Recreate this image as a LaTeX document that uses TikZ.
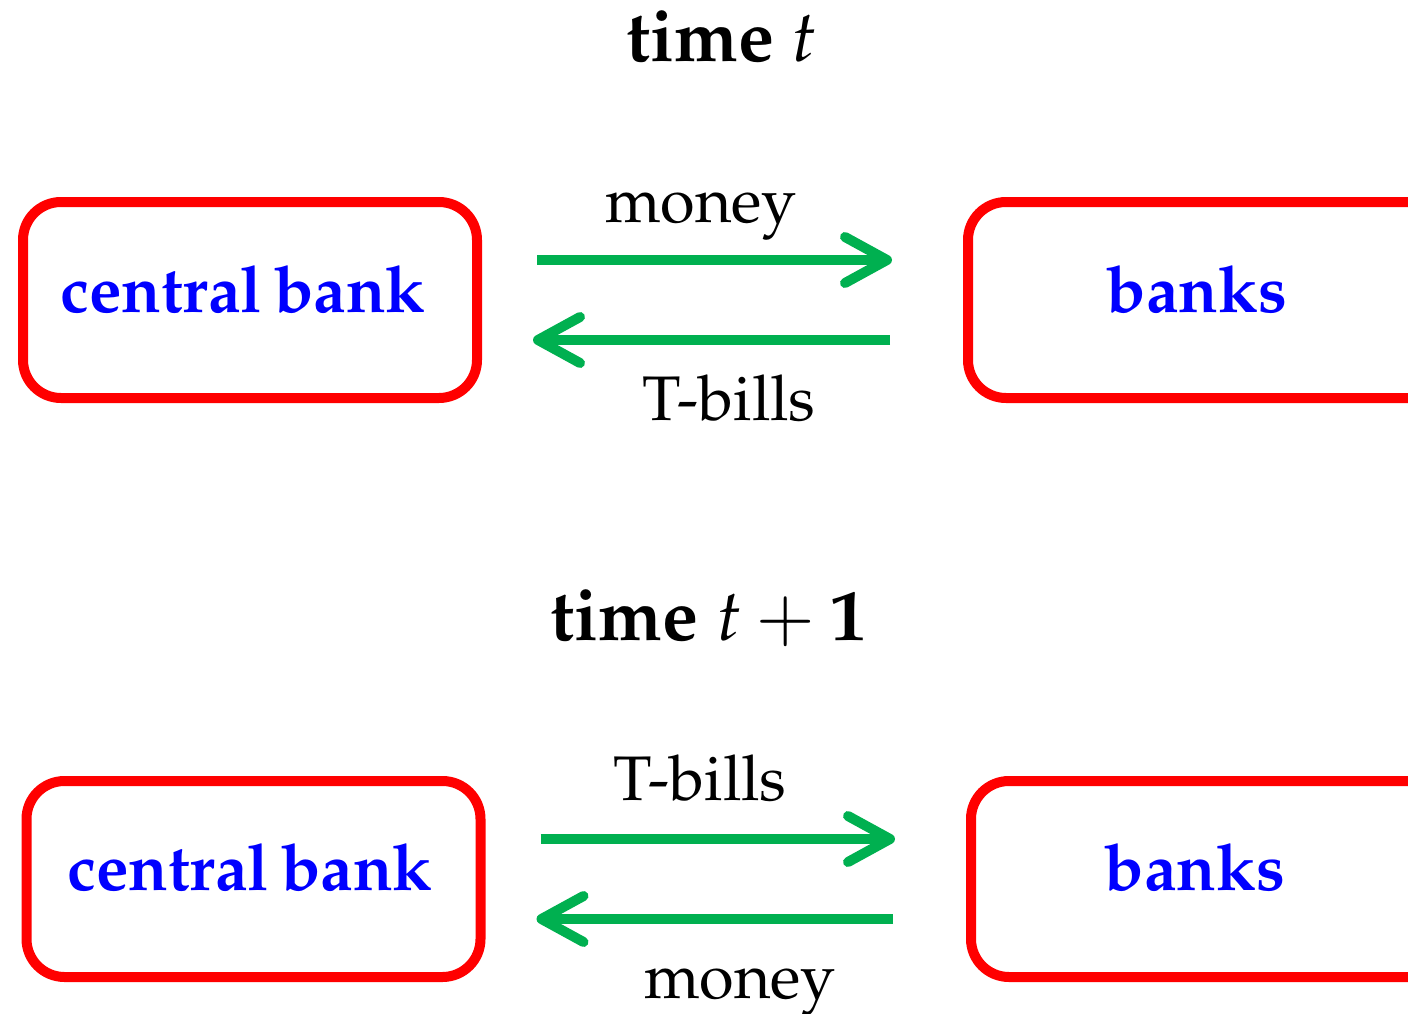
\documentclass[tikz,border=0pt]{standalone}
\usepackage[T1]{fontenc}
\usepackage{mathpazo}
\usetikzlibrary{arrows.meta}
\definecolor{boxred}{RGB}{255,0,0}
\definecolor{txtblue}{RGB}{0,0,255}
\definecolor{arrgreen}{RGB}{0,176,80}
\tikzset{
  bankbox/.style={draw=boxred, line width=10pt, rounded corners=38pt, rectangle,
    minimum width=454pt, minimum height=196pt, inner sep=0pt, outer sep=0pt},
  wide/.style={minimum width=600pt},
  boxtext/.style={text=txtblue, font=\fontsize{65}{72}\selectfont\bfseries, anchor=base, inner sep=0pt},
  lab/.style={font=\fontsize{63}{70}\selectfont, anchor=base, inner sep=0pt},
  ttl/.style={font=\fontsize{72}{80}\selectfont\bfseries, anchor=base, inner sep=0pt},
  flow/.style={draw=arrgreen, line width=10pt,
    -{Straight Barb[length=42pt, width=46pt, round]}},
  fwd/.style={flow, shorten <=60pt, shorten >=76pt},
  bwd/.style={flow, shorten <=78pt, shorten >=56pt}
}
\begin{document}
\begin{tikzpicture}[x=1pt, y=-1pt]
\useasboundingbox (0,0) rectangle (1408,1014);
\clip (0,0) rectangle (1408,1014);
% titles
\node[ttl] (t1) at (722,62) {time $t$};
\node[ttl] (t2) at (709,640) {time $t+\mathbf{1}$};
% top row
\node[bankbox] (cb1) at (250,300) {};
\node[bankbox, wide] (bk1) at (1268,300) {};
\node[boxtext] (cb1t) at (243,312) {central\hspace{0.18em}bank};
\node[boxtext] (bk1t) at (1197,312) {banks};
\draw[fwd] ([yshift=40pt]cb1.east) -- ([yshift=40pt]bk1.west);
\draw[bwd] ([yshift=-40pt]bk1.west) -- ([yshift=-40pt]cb1.east);
\node[lab] (m1) at (701,222) {money};
\node[lab] (b1) at (729,420) {T-bills};
% bottom row
\node[bankbox] (cb2) at (253.5,879) {};
\node[bankbox, wide] (bk2) at (1271,879) {};
\node[boxtext] (cb2t) at (250,890) {central\hspace{0.18em}bank};
\node[boxtext] (bk2t) at (1195,890) {banks};
\draw[fwd] ([yshift=40pt]cb2.east) -- ([yshift=40pt]bk2.west);
\draw[bwd] ([yshift=-40pt]bk2.west) -- ([yshift=-40pt]cb2.east);
\node[lab] (b2) at (700,800) {T-bills};
\node[lab] (m2) at (740,998) {money};
\end{tikzpicture}
\end{document}
